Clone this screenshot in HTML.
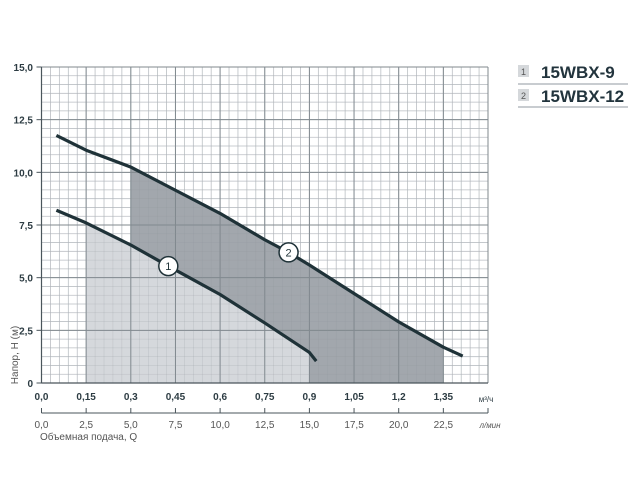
<!DOCTYPE html>
<html><head><meta charset="utf-8"><style>
html,body{margin:0;padding:0;background:#fff;width:640px;height:500px;overflow:hidden}
svg{display:block;font-family:"Liberation Sans",sans-serif}
</style></head><body>
<svg id="chart" width="640" height="500" xmlns="http://www.w3.org/2000/svg">
<g id="grid"></g>
<g id="fills"></g>
<g id="gridOver"></g>
<g id="curves"></g>
<g id="axes"></g>
<text x="18" y="355" transform="rotate(-90 18 355)" text-anchor="middle" font-size="10" fill="#555">Напор, H (м)</text>
<text x="40" y="440" font-size="10" fill="#555">Объемная подача, Q</text>
<g>
 <g>
  <rect x="518" y="65" width="11" height="12" fill="#d5d8db"/>
  <text x="523.5" y="75" font-size="9" text-anchor="middle" fill="#555">1</text>
  <text x="541" y="78" font-size="17" font-weight="bold" fill="#22343d">15WBX-9</text>
  <line x1="518" y1="84" x2="628" y2="84" stroke="#c8ccd0" stroke-width="2"/>
 </g>
 <g>
  <rect x="518" y="89" width="11" height="12" fill="#d5d8db"/>
  <text x="523.5" y="99" font-size="9" text-anchor="middle" fill="#555">2</text>
  <text x="541" y="102" font-size="17" font-weight="bold" fill="#22343d">15WBX-12</text>
  <line x1="518" y1="107" x2="628" y2="107" stroke="#c8ccd0" stroke-width="2"/>
 </g>
</g>
</svg>
<script>
const xTicks = ["0,0","0,15","0,3","0,45","0,6","0,75","0,9","1,05","1,2","1,35"];
const lTicks = ["0,0","2,5","5,0","7,5","10,0","12,5","15,0","17,5","20,0","22,5"];
const yTicks = ["0","2,5","5,0","7,5","10,0","12,5","15,0"];
const curve1Q = [0.05,0.15,0.3,0.426,0.6,0.75,0.9,0.923];
const curve1H = [8.2,7.6,6.55,5.55,4.2,2.85,1.45,1.04];
const curve2Q = [0.05,0.15,0.3,0.45,0.6,0.75,0.83,0.9,1.05,1.2,1.35,1.415];
const curve2H = [11.75,11.05,10.25,9.15,8.05,6.8,6.2,5.6,4.25,2.9,1.7,1.28];
const range1 = [0.15,0.9];
const range2 = [0.3,1.35];
const marker1 = [0.426,5.55];
const marker2 = [0.83,6.2];

const NS="http://www.w3.org/2000/svg";
const X0=41.5,X1=488,Y0=383,Y1=67,QMAX=1.5,HMAX=15;
const sx=q=>X0+q/QMAX*(X1-X0);
const sy=h=>Y0-h/HMAX*(Y0-Y1);
function mk(tag,attrs,parent,txt){const e=document.createElementNS(NS,tag);for(const k in attrs)e.setAttribute(k,attrs[k]);if(txt!==undefined)e.textContent=txt;parent.appendChild(e);return e;}
function interp(Q,H,q){for(let i=0;i<Q.length-1;i++){if(q>=Q[i]&&q<=Q[i+1]){const t=(q-Q[i])/(Q[i+1]-Q[i]);return H[i]+t*(H[i+1]-H[i]);}}return q<Q[0]?H[0]:H[H.length-1];}

const grid=document.getElementById('grid');
// minor grid
for(let i=0;i<=50;i++){const x=sx(i*0.03);const l=mk('line',{x1:x,y1:Y1,x2:x,y2:Y0,stroke:'#c9cdd1','stroke-width':0.8},grid);
}
for(let i=0;i<=36;i++){const y=sy(i*15/36);const l=mk('line',{x1:X0,y1:y,x2:X1,y2:y,stroke:'#c9cdd1','stroke-width':0.8},grid);
}

// fills
const fills=document.getElementById('fills');
function areaPts(Q,H,a,b){let pts=[[sx(a),sy(0)],[sx(a),sy(interp(Q,H,a))]];Q.forEach((q,i)=>{if(q>a&&q<b)pts.push([sx(q),sy(H[i])]);});pts.push([sx(b),sy(interp(Q,H,b))]);pts.push([sx(b),sy(0)]);return pts.map(p=>p.join(',')).join(' ');}
const dark=mk('polygon',{points:areaPts(curve2Q,curve2H,range2[0],range2[1]),fill:'#a2a7ad'},fills);

const light=mk('polygon',{points:areaPts(curve1Q,curve1H,range1[0],range1[1]),fill:'#d5d8dc'},fills);


// major grid over
const go=document.getElementById('gridOver');
for(let i=0;i<=10;i++){const x=sx(i*0.15);const l=mk('line',{x1:x,y1:Y1,x2:x,y2:Y0,stroke:'#7d868c','stroke-width':1},go);
}
for(let i=0;i<=6;i++){const y=sy(i*2.5);const l=mk('line',{x1:X0,y1:y,x2:X1,y2:y,stroke:'#7d868c','stroke-width':1},go);
}
// minor lines translucent over fills
for(let i=0;i<=50;i++){const x=sx(i*0.03);const l=mk('line',{x1:x,y1:Y1,x2:x,y2:Y0,stroke:'#8e969c','stroke-width':0.5,'stroke-opacity':0.35},go);
}
for(let i=0;i<=36;i++){const y=sy(i*15/36);const l=mk('line',{x1:X0,y1:y,x2:X1,y2:y,stroke:'#8e969c','stroke-width':0.5,'stroke-opacity':0.35},go);
}

// curves
const cg=document.getElementById('curves');
function line(Q,H,name){const p=mk('polyline',{points:Q.map((q,i)=>sx(q)+','+sy(H[i])).join(' '),fill:'none',stroke:'#1f3238','stroke-width':3.2,'stroke-linejoin':'round'},cg);
}
line(curve1Q,curve1H,'curve-15wbx-9');
line(curve2Q,curve2H,'curve-15wbx-12');
function marker(m,label,name){const g=mk('g',{},cg);
mk('circle',{cx:sx(m[0]),cy:sy(m[1]),r:9.5,fill:'#fff',stroke:'#1f3238','stroke-width':1.5},g);
mk('text',{x:sx(m[0]),y:sy(m[1])+4,'font-size':11,'text-anchor':'middle',fill:'#1f3238'},g,label);}
marker(marker1,'1','curve-label-1');
marker(marker2,'2','curve-label-2');

// axes
const ax=document.getElementById('axes');
mk('line',{x1:X0,y1:Y0,x2:X1,y2:Y0,stroke:'#4a555b','stroke-width':1.2},ax);
mk('line',{x1:X0,y1:Y1,x2:X0,y2:Y0,stroke:'#4a555b','stroke-width':1.2},ax);
yTicks.forEach((t,i)=>{const y=sy(i*2.5);mk('line',{x1:X0-5,y1:y,x2:X0,y2:y,stroke:'#4a555b'},ax);
const e=mk('text',{x:33,y:y+4,'font-size':10,'font-weight':'bold','text-anchor':'end',fill:'#2d3c43'},ax,t);
});
xTicks.forEach((t,i)=>{const x=sx(i*0.15);
const e=mk('text',{x:x,y:400,'font-size':10,'font-weight':'bold','text-anchor':'middle',fill:'#2d3c43'},ax,t);
});
mk('text',{x:486,y:402,'font-size':8,fill:'#2d3c43','text-anchor':'middle'},ax,'м³/ч');
// second axis
mk('line',{x1:X0,y1:413,x2:X1,y2:413,stroke:'#4a555b','stroke-width':1},ax);
mk('line',{x1:X1,y1:408,x2:X1,y2:413,stroke:'#4a555b'},ax);
lTicks.forEach((t,i)=>{const x=sx(i*0.15);mk('line',{x1:x,y1:408,x2:x,y2:413,stroke:'#4a555b'},ax);
const e=mk('text',{x:x,y:428,'font-size':10,'text-anchor':'middle',fill:'#555'},ax,t);
});
mk('text',{x:490,y:428,'font-size':8,fill:'#555','text-anchor':'middle','font-style':'italic'},ax,'л/мин');
</script>
</body></html>
